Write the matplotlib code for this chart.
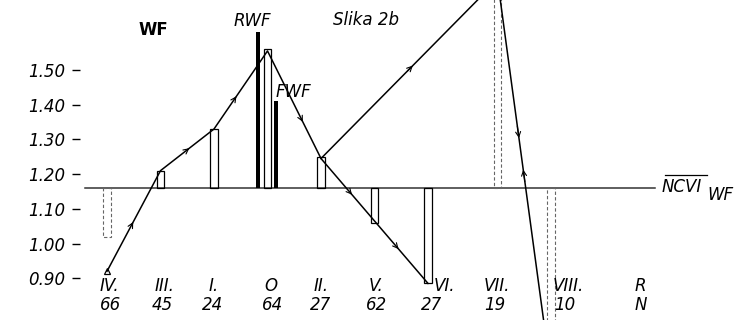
import matplotlib
matplotlib.use('Agg')
import matplotlib.pyplot as plt
import numpy as np

# ---------------- data ----------------
categories = ['IV.', 'III.', 'I.', 'O', 'II.', 'V.', 'VI.', 'VII.', 'VIII.', 'R']
counts = ['66', '45', '24', '64', '27', '62', '27', '19', '10', 'N']
bar_values = [1.02, 1.21, 1.33, 1.56, 1.25, 1.06, 0.885, 1.76, 0.70, None]
line_values = [0.92, 1.21, 1.33, 1.555, 1.245, 1.065, 0.885, 1.76, 0.62, None]
baseline = 1.16          # NCVI_WF level
rwf_value = 1.61
fwf_value = 1.41
ytick_values = [0.90, 1.00, 1.10, 1.20, 1.30, 1.40, 1.50]
main_path = ['IV.', 'III.', 'I.', 'O', 'II.', 'V.', 'VI.']
branch_path = ['II.', 'VII.', 'VIII.']

# ---------------- layout ----------------
x_slot = [0, 1, 2, 3, 4, 5, 6, 7.3, 8.3, 10.0]
label_slot = [0.05, 1.07, 2.0, 3.07, 4.0, 5.03, 6.3, 7.28, 8.63, 9.96]
count_slot = [0.06, 1.04, 1.98, 3.1, 4.0, 5.03, 6.07, 7.24, 8.56, 9.97]
dashed_bars = ('IV.', 'VII.', 'VIII.')

W, H = 738, 320
fig = plt.figure(figsize=(W / 100, H / 100), dpi=100)
ax_left_px = 80
ax = fig.add_axes([ax_left_px / W, 0, 1 - ax_left_px / W, 1])
x0_px, slot_px = 107, 53.5
ax.set_xlim((ax_left_px - x0_px) / slot_px, (W - x0_px) / slot_px)
y_base_px, unit_px = 188, 347
ax.set_ylim(baseline - (H - y_base_px) / unit_px, baseline + y_base_px / unit_px)

for s in ax.spines.values():
    s.set_visible(False)
ax.set_xticks([])
ax.set_yticks(ytick_values)
ax.set_yticklabels([f'{v:.2f}' for v in ytick_values], fontsize=12, style='italic')
ax.tick_params(axis='y', length=5.8, width=1.0, pad=5.0, direction='out', colors='black')

idx = {c: i for i, c in enumerate(categories)}

# baseline NCVI_WF
ax.plot([x_slot[0] - 0.41, x_slot[-1] + 0.24], [baseline, baseline], color='#333333', lw=1.1, zorder=2)

# open bars
bar_w = 0.135
for i, v in enumerate(bar_values):
    if v is None:
        continue
    if categories[i] in dashed_bars:
        ax.bar(x_slot[i], v - baseline, bottom=baseline, width=bar_w, fill=False,
               edgecolor='#666666', linewidth=0.8, linestyle=(0, (3, 2)), zorder=3)
    else:
        ax.bar(x_slot[i], v - baseline, bottom=baseline, width=bar_w, fill=False,
               edgecolor='black', linewidth=0.9, zorder=3)

# RWF and FWF solid bars near O
o = idx['O']
ax.bar(x_slot[o] - 0.18, rwf_value - baseline, bottom=baseline, width=0.075, color='black', zorder=4)
ax.bar(x_slot[o] + 0.16, fwf_value - baseline, bottom=baseline, width=0.07, color='black', zorder=4)

# trajectory lines
def path_xy(path):
    return [x_slot[idx[c]] for c in path], [line_values[idx[c]] for c in path]

xs, ys = path_xy(main_path)
ax.plot(xs, ys, color='black', lw=1.1, zorder=5)
xs, ys = path_xy(branch_path)
ax.plot(xs, ys, color='black', lw=1.1, zorder=5)
ax.plot([x_slot[0]], [line_values[0]], marker='^', ms=5, mfc='none', mec='black', mew=0.9, zorder=6)

def arrow_on(a, b, f, reverse=False):
    ia, ib = idx[a], idx[b]
    p0 = np.array([x_slot[ia], line_values[ia]])
    p1 = np.array([x_slot[ib], line_values[ib]])
    if reverse:
        p0, p1 = p1, p0
        f = 1 - f
    tip = p0 + f * (p1 - p0)
    tail = p0 + (f - 0.03) * (p1 - p0)
    ax.annotate('', xy=tip, xytext=tail,
                arrowprops=dict(arrowstyle='->', lw=0.8, color='black',
                                mutation_scale=9, shrinkA=0, shrinkB=0), zorder=6)

arrow_on('IV.', 'III.', 0.49)
arrow_on('III.', 'I.', 0.54)
arrow_on('I.', 'O', 0.42)
arrow_on('O', 'II.', 0.66)
arrow_on('II.', 'V.', 0.58)
arrow_on('V.', 'VI.', 0.45)
arrow_on('II.', 'VII.', 0.52)
arrow_on('VII.', 'VIII.', 0.40)
arrow_on('VII.', 'VIII.', 0.48, reverse=True)

# category labels
tr = ax.get_xaxis_transform()
for i, c in enumerate(categories):
    ax.text(label_slot[i], 1 - 286 / H, c, transform=tr, ha='center', va='center',
            fontsize=12, style='italic')
    ax.text(count_slot[i], 1 - 305 / H, counts[i], transform=tr, ha='center', va='center',
            fontsize=12, style='italic')

# annotations (figure pixel positions)
def fx(x):
    return x / W

def fy(y):
    return 1 - y / H

fig.text(fx(153), fy(30), 'WF', ha='center', va='center', fontsize=12, weight='bold')
fig.text(fx(252), fy(21), 'RWF', ha='center', va='center', fontsize=12, style='italic')
fig.text(fx(366), fy(20), 'Slika 2b', ha='center', va='center', fontsize=12, style='italic')
fig.text(fx(293), fy(92), 'FWF', ha='center', va='center', fontsize=12, style='italic')
fig.text(fx(662), fy(187), 'NCVI', ha='left', va='center', fontsize=12, style='italic')
fig.add_artist(plt.Line2D([fx(665), fx(707)], [fy(175), fy(175)], color='black', lw=0.9))
fig.text(fx(707), fy(195), 'WF', ha='left', va='center', fontsize=12, style='italic')

fig.savefig('out.png', dpi=100)
